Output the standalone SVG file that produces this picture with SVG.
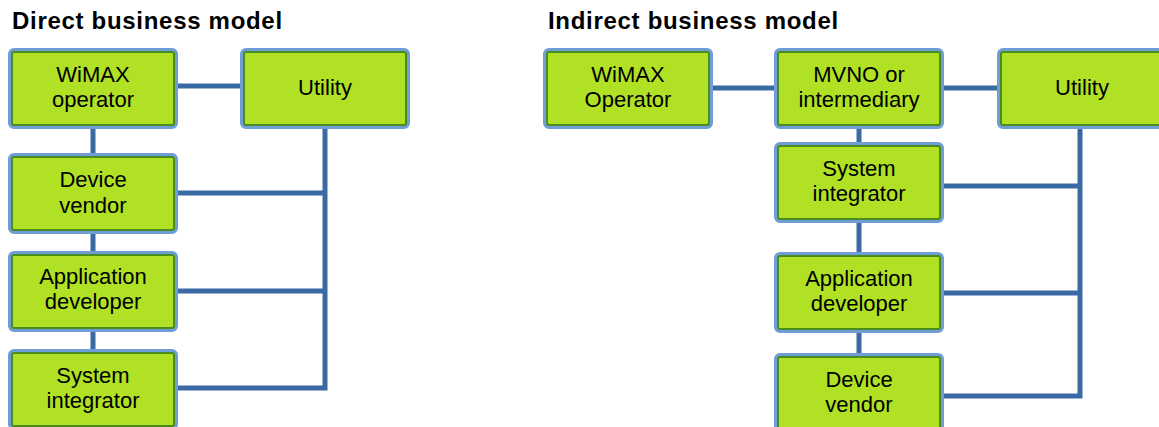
<svg xmlns="http://www.w3.org/2000/svg" width="1159" height="427" viewBox="0 0 1159 427">
  <style>
    .title { font-family: "Liberation Sans", Arial, sans-serif; font-weight: bold; font-size: 24px; fill: #000; letter-spacing: 0.7px; }
    .lbl { font-family: "Liberation Sans", Arial, sans-serif; font-size: 22px; fill: #000; text-anchor: middle; }
    .outer { fill: #b0e124; stroke: #6f9dd6; stroke-width: 4; }
    .inner { fill: none; stroke: #4a8c1f; stroke-width: 2; }
    .wire { fill: none; stroke: #3a6aa3; stroke-width: 5; stroke-linejoin: miter; }
  </style>
  <defs>
    <g id="box">
      <rect class="outer" x="0" y="0" width="166" height="77" rx="4"/>
      <rect class="inner" x="2" y="2" width="162" height="73" rx="2"/>
    </g>
  </defs>
  <rect width="1159" height="427" fill="#fff"/>

  <text class="title" x="12" y="29">Direct business model</text>
  <text class="title" x="548" y="29">Indirect business model</text>

  <g id="connectors">
    <!-- direct model -->
    <line class="wire" x1="176" y1="86" x2="241" y2="86"/>
    <line class="wire" x1="93" y1="127" x2="93" y2="354"/>
    <polyline class="wire" points="325,127 325,388 176,388"/>
    <line class="wire" x1="176" y1="193" x2="325" y2="193"/>
    <line class="wire" x1="176" y1="291" x2="325" y2="291"/>
    <!-- indirect model -->
    <line class="wire" x1="711" y1="88" x2="999" y2="88"/>
    <line class="wire" x1="859" y1="127" x2="859" y2="358"/>
    <polyline class="wire" points="1080,127 1080,396 942,396"/>
    <line class="wire" x1="942" y1="186" x2="1080" y2="186"/>
    <line class="wire" x1="942" y1="293" x2="1080" y2="293"/>
  </g>

  <!-- direct model nodes -->
  <g id="d-wimax">
    <use href="#box" x="10" y="50"/>
    <text class="lbl" x="93" y="82">WiMAX</text>
    <text class="lbl" x="93" y="107">operator</text>
  </g>
  <g id="d-utility">
    <use href="#box" x="242" y="50"/>
    <text class="lbl" x="325" y="95">Utility</text>
  </g>
  <g id="d-device">
    <use href="#box" x="10" y="155"/>
    <text class="lbl" x="93" y="187">Device</text>
    <text class="lbl" x="93" y="213">vendor</text>
  </g>
  <g id="d-app">
    <use href="#box" x="10" y="253"/>
    <text class="lbl" x="93" y="284">Application</text>
    <text class="lbl" x="93" y="309">developer</text>
  </g>
  <g id="d-sysint">
    <use href="#box" x="10" y="351"/>
    <text class="lbl" x="93" y="383">System</text>
    <text class="lbl" x="93" y="408">integrator</text>
  </g>

  <!-- indirect model nodes -->
  <g id="i-wimax">
    <use href="#box" x="545" y="50"/>
    <text class="lbl" x="628" y="82">WiMAX</text>
    <text class="lbl" x="628" y="107">Operator</text>
  </g>
  <g id="i-mvno">
    <use href="#box" x="776" y="50"/>
    <text class="lbl" x="859" y="82">MVNO or</text>
    <text class="lbl" x="859" y="107">intermediary</text>
  </g>
  <g id="i-utility">
    <use href="#box" x="999" y="50"/>
    <text class="lbl" x="1082" y="95">Utility</text>
  </g>
  <g id="i-sysint">
    <use href="#box" x="776" y="144"/>
    <text class="lbl" x="859" y="176">System</text>
    <text class="lbl" x="859" y="201">integrator</text>
  </g>
  <g id="i-app">
    <use href="#box" x="776" y="254"/>
    <text class="lbl" x="859" y="286">Application</text>
    <text class="lbl" x="859" y="311">developer</text>
  </g>
  <g id="i-device">
    <use href="#box" x="776" y="355"/>
    <text class="lbl" x="859" y="387">Device</text>
    <text class="lbl" x="859" y="412">vendor</text>
  </g>
</svg>
